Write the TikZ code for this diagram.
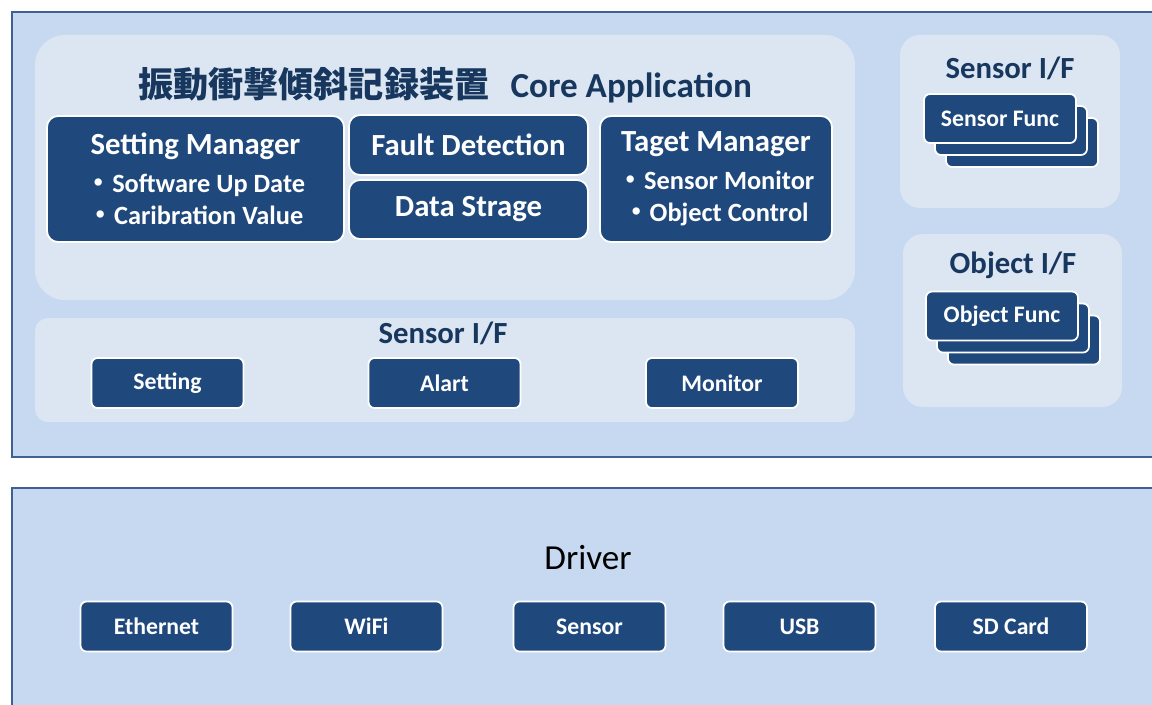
\documentclass[tikz,border=0pt]{standalone}
\usepackage{fontspec}
\setmainfont{Carlito}
\newfontfamily\cjk{Noto Sans CJK JP}
\usepackage{xcolor}
\usepackage{tikz}
\definecolor{bgblue}{HTML}{C6D9F1}
\definecolor{panel}{HTML}{DCE6F2}
\definecolor{navy}{HTML}{1F497D}
\definecolor{frame}{HTML}{40608F}
\definecolor{headtext}{HTML}{17375E}

\begin{document}
\begin{tikzpicture}[x=0.02cm,y=-0.02cm,
  layer/.style={fill=bgblue,draw=frame,line width=1.6pt},
  panelbox/.style={fill=panel,draw=none},
  block/.style={fill=navy,draw=white,line width=1pt,rounded corners=0.22cm,
    text=white,font=\bfseries,align=center,inner sep=0pt},
  btn/.style={block,rounded corners=0.12cm,minimum width=3.04cm,minimum height=1cm,
    font=\bfseries\fontsize{13.5}{15}\selectfont},
  card/.style={block,rounded corners=0.12cm,minimum width=3.04cm,minimum height=0.98cm,
    font=\bfseries\fontsize{13.5}{15}\selectfont},
  head/.style={text=headtext,font=\bfseries\fontsize{17.5}{20}\selectfont},
  bighead/.style={font=\bfseries\fontsize{17.5}{20}\selectfont},
  manager/.style={block,font=\bfseries\fontsize{15}{18.5}\selectfont}]
\useasboundingbox (0,0) rectangle (1152,704);
\clip (0,0) rectangle (1152,704);
\fill[white] (0,0) rectangle (1152,704);

% application layer
\draw[layer] (12,12) rectangle (1170,457);
\fill[panelbox,rounded corners=0.6cm] (35,35) rectangle (855,300);
\node[text=headtext,font=\bfseries\fontsize{20}{23}\selectfont] (coretitle) at (445,85)
  {{\cjk 振動衝撃傾斜記録装置}\hspace{0.6em}Core Application};

\node[manager,minimum width=5.94cm,minimum height=2.52cm] (setman) at (195.5,179)
  {{\fontsize{17.5}{20}\selectfont Setting Manager}\\[3pt]
   {\cjk ・}Software Up Date\\
   {\cjk ・}Caribration Value};
\node[block,bighead,minimum width=4.78cm,minimum height=1.2cm] (fault) at (468.5,145) {Fault Detection};
\node[block,bighead,minimum width=4.78cm,minimum height=1.18cm] (strage) at (468.5,209.5) {Data Strage};
\node[manager,minimum width=4.64cm,minimum height=2.52cm] (tagman) at (716,179)
  {{\fontsize{17.5}{20}\selectfont Taget Manager}\\[3pt]
   {\cjk ・}Sensor Monitor\\
   {\cjk ・}Object Control};

% sensor interface inside the application
\fill[panelbox,rounded corners=0.26cm] (35,318) rectangle (855,422);
\node[head] (sensortitle) at (443,333) {Sensor I/F};
\node[btn] (setting) at (167.5,383) {Setting};
\node[btn] (alart) at (444.5,383) {Alart};
\node[btn] (monitor) at (722,383) {Monitor};

% sensor I/F on the right
\fill[panelbox,rounded corners=0.4cm] (900,35) rectangle (1120,208);
\node[head] (sensoriftitle) at (1010,68) {Sensor I/F};
\node[card] (sfunc3) at (1022,142.5) {};
\node[card] (sfunc2) at (1011,130.5) {};
\node[card] (sfunc) at (1000,118.5) {Sensor Func};

% object I/F on the right
\fill[panelbox,rounded corners=0.4cm] (903,234) rectangle (1122,407);
\node[head] (objectiftitle) at (1013,265) {Object I/F};
\node[card] (ofunc3) at (1024,340) {};
\node[card] (ofunc2) at (1013,328) {};
\node[card] (ofunc) at (1002,316) {Object Func};

% driver layer
\draw[layer] (12,488) rectangle (1170,720);
\node[font=\fontsize{20}{24}\selectfont] (driver) at (588,558) {Driver};
\node[btn] (ethernet) at (156.5,626.5) {Ethernet};
\node[btn] (wifi) at (366.5,626.5) {WiFi};
\node[btn] (sensor) at (589.5,626.5) {Sensor};
\node[btn] (usb) at (799.5,626.5) {USB};
\node[btn] (sdcard) at (1011,626.5) {SD Card};
\end{tikzpicture}
\end{document}
